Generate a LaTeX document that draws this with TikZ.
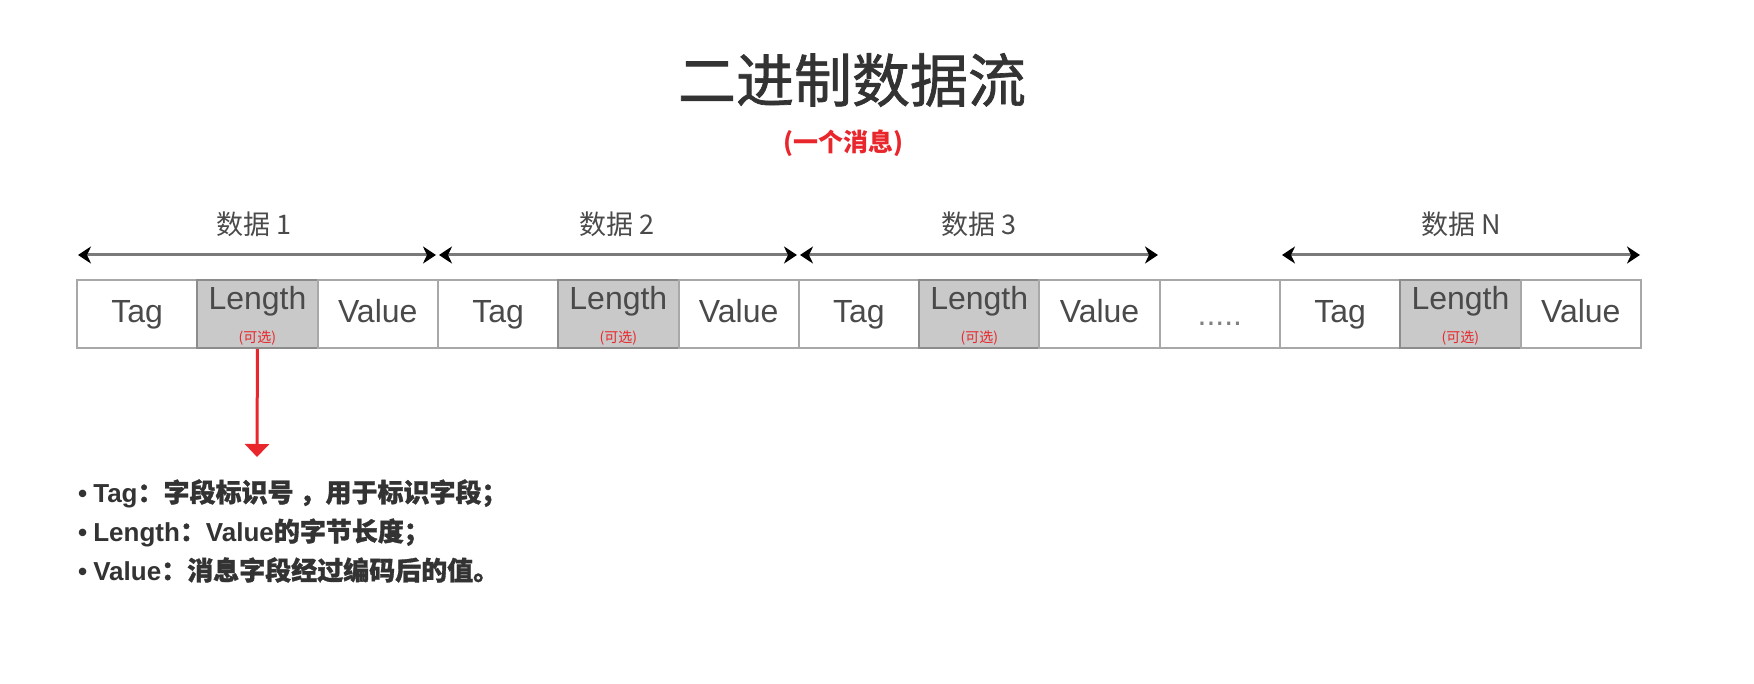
\documentclass[tikz,border=0pt]{standalone}
\usepackage{fontspec}
\setmainfont{Liberation Sans}
\newfontfamily\cjk{Noto Sans CJK SC}
\newfontfamily\cjkmed[FakeBold=1.2]{Noto Sans CJK SC}
\usetikzlibrary{arrows.meta}
\definecolor{titlec}{HTML}{333333}
\definecolor{labelc}{HTML}{4A4A4A}
\definecolor{cellline}{HTML}{A8A8A8}
\definecolor{cellfill}{HTML}{C9C9C9}
\definecolor{celldark}{HTML}{8C8C8C}
\definecolor{redc}{HTML}{E8262B}
\definecolor{dimline}{HTML}{7A7A7A}
\tikzset{
  cell/.style={draw=cellline, line width=2pt, fill=white, minimum width=120.3pt, minimum height=68pt, inner sep=0pt},
  optcell/.style={cell, fill=cellfill, draw=celldark},
  celltext/.style={anchor=base, inner sep=0pt, text=labelc, font=\fontsize{32}{36}\selectfont},
  opttext/.style={anchor=center, inner sep=0pt, text=redc, font=\cjk\fontsize{14}{16}\selectfont},
  dimtip/.tip={Stealth[length=13pt,width=17pt,inset=4pt,color=black]},
  dim/.style={draw=dimline, line width=3pt, dimtip-dimtip},
  datalabel/.style={anchor=center, inner sep=0pt, text=labelc, font=\cjk\fontsize{27}{30}\selectfont},
  bullettext/.style={anchor=base west, inner sep=0pt, text=titlec, font=\bfseries\fontsize{26}{30}\selectfont},
}
\begin{document}
\begin{tikzpicture}[x=1pt,y=-1pt]
\useasboundingbox[fill=white] (0,0) rectangle (1754,684);

% title
\node[inner sep=0pt, text=titlec, font=\cjkmed\fontsize{58}{64}\selectfont] (title) at (852,80) {二进制数据流};
\node[inner sep=0pt, text=redc, font=\cjk\bfseries\fontsize{25}{28}\selectfont] (subtitle) at (843,143) {(一个消息)};

% cells
\node[cell]    (c1)  at (137.15,314) {};
\node[optcell] (c2)  at (257.45,314) {};
\node[cell]    (c3)  at (377.75,314) {};
\node[cell]    (c4)  at (498.05,314) {};
\node[optcell] (c5)  at (618.35,314) {};
\node[cell]    (c6)  at (738.65,314) {};
\node[cell]    (c7)  at (858.95,314) {};
\node[optcell] (c8)  at (979.25,314) {};
\node[cell]    (c9)  at (1099.55,314) {};
\node[cell]    (c10) at (1219.85,314) {};
\node[cell]    (c11) at (1340.15,314) {};
\node[optcell] (c12) at (1460.45,314) {};
\node[cell]    (c13) at (1580.75,314) {};

% cell texts
\foreach \c in {c1,c4,c7,c11}{
  \node[celltext] at ([yshift=-9pt]\c.center) {Tag};
}
\foreach \c in {c3,c6,c9,c13}{
  \node[celltext] at ([yshift=-9pt]\c.center) {Value};
}
\foreach \c in {c2,c5,c8,c12}{
  \node[celltext] at ([yshift=4pt]\c.center) {Length};
  \node[opttext] at ([yshift=-24pt]\c.center) {(可选)};
}
\node[celltext, text=gray] at ([yshift=-12pt]c10.center) {.....};

% dimension arrows
\coordinate (a1l) at (78,255);
\coordinate (a1r) at (436,255);
\coordinate (a2l) at (439,255);
\coordinate (a2r) at (797,255);
\coordinate (a3l) at (800,255);
\coordinate (a3r) at (1158,255);
\coordinate (a4l) at (1282,255);
\coordinate (a4r) at (1640,255);
\draw[dim] (a1l) -- (a1r);
\draw[dim] (a2l) -- (a2r);
\draw[dim] (a3l) -- (a3r);
\draw[dim] (a4l) -- (a4r);
\node[datalabel] (d1) at (254,224) {数据 1};
\node[datalabel] (d2) at (617,224) {数据 2};
\node[datalabel] (d3) at (979,224) {数据 3};
\node[datalabel] (dN) at (1461,224) {数据 N};

% red pointer
\coordinate (redend) at (257,457);
\draw[redc, line width=3pt, -{Triangle[length=13pt,width=24pt]}] (c2.south) -- (redend);

% bullet list
\node[bullettext] (b1) at (78,502) {•\hspace{6pt}Tag{\cjkmed ：字段标识号 ，用于标识字段；}};
\node[bullettext] (b2) at (78,541) {•\hspace{6pt}Length{\cjkmed ：}Value{\cjkmed 的字节长度；}};
\node[bullettext] (b3) at (78,580) {•\hspace{6pt}Value{\cjkmed ：消息字段经过编码后的值。}};
\end{tikzpicture}
\end{document}
